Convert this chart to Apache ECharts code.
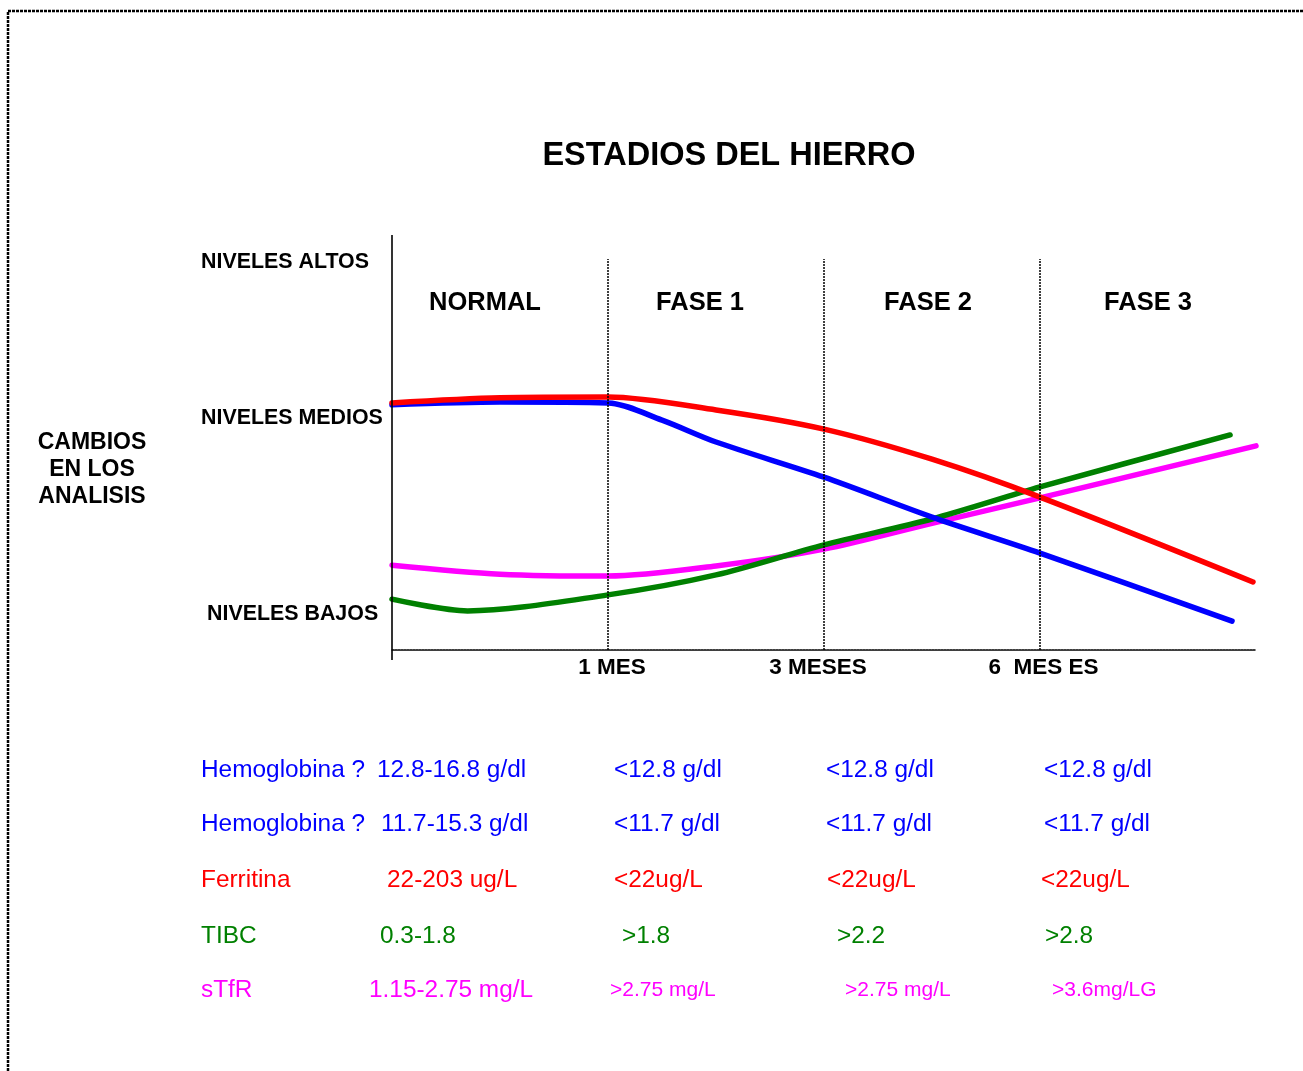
<!DOCTYPE html>
<html>
<head>
<meta charset="utf-8">
<script src="https://cdn.jsdelivr.net/npm/echarts@6/dist/echarts.min.js"></script>
<style>
html,body{margin:0;padding:0;background:#fff;}
#chart{width:1303px;height:1071px;}
</style>
</head>
<body>
<div id="chart"></div>
<script>
// ---- data ----
const titleText = 'ESTADIOS DEL HIERRO';
const phaseLabels = ['NORMAL', 'FASE 1', 'FASE 2', 'FASE 3'];
const levelLabels = ['NIVELES ALTOS', 'NIVELES MEDIOS', 'NIVELES BAJOS'];
const yAxisTitle = 'CAMBIOS\nEN LOS\nANALISIS';
const tickLabels = ['', '1 MES', '3 MESES', '6  MES ES', ''];

// curves: [time position (phase units), level]
const ferritina = [[0,63.2],[0.5,64.5],[1,64.7],[1.5,61.4],[2,56.5],[2.5,48.8],[3,39.1],[3.986,17.4]];
const hemoglobina = [[0,62.7],[0.5,63.4],[1,63.2],[1.25,58.8],[1.5,53.2],[2,44.2],[2.5,34.0],[3,24.8],[3.889,7.4]];
const tibc = [[0,13.0],[0.35,10.0],[1,14.1],[1.5,19.2],[2,26.9],[2.5,33.5],[3,41.7],[3.88,55.0]];
const stfr = [[0,21.7],[0.5,19.4],[1,18.9],[1.5,21.5],[2,25.8],[2.5,32.4],[3,38.9],[4,52.2]];

// table below
const rowNames   = ['Hemoglobina ?', 'Hemoglobina ?', 'Ferritina', 'TIBC', 'sTfR'];
const normalVals = ['12.8-16.8 g/dl', '11.7-15.3 g/dl', '22-203 ug/L', '0.3-1.8', '1.15-2.75 mg/L'];
const fase1Vals  = ['<12.8 g/dl', '<11.7 g/dl', '<22ug/L', '>1.8', '>2.75 mg/L'];
const fase2Vals  = ['<12.8 g/dl', '<11.7 g/dl', '<22ug/L', '>2.2', '>2.75 mg/L'];
const fase3Vals  = ['<12.8 g/dl', '<11.7 g/dl', '<22ug/L', '>2.8', '>3.6mg/LG'];

// ---- styles / layout ----
const rowColors = ['#0000FF', '#0000FF', '#FF0000', '#008000', '#FF00FF'];
const rowY = [770, 824, 880, 936, 990];
const colX = [
  [201, 201, 201, 201, 201],
  [377, 381, 387, 380, 369],
  [614, 614, 614, 622, 610],
  [826, 826, 827, 837, 845],
  [1044, 1044, 1041, 1045, 1052]
];
const FONT = '"Liberation Sans", Arial, Helvetica, sans-serif';

const chart = echarts.init(document.getElementById('chart'), null, {renderer: 'canvas'});

const graphics = [];
// dotted frame
graphics.push({type:'rect', shape:{x:8, y:11, width:1320, height:1090}, style:{fill:null, stroke:'#000', lineWidth:2.5, lineDash:[3,1]}, silent:true});
// left axis line
graphics.push({type:'line', shape:{x1:392, y1:235, x2:392, y2:660}, style:{stroke:'#000', lineWidth:1.6}, silent:true, z:10});
// title
graphics.push({type:'text', x:729, y:156, style:{text:titleText, font:'bold 32.5px ' + FONT, fill:'#000', align:'center', verticalAlign:'middle'}});
// phase labels
const phaseCenters = [485, 700, 928, 1148];
phaseLabels.forEach((t, i) => graphics.push({type:'text', x:phaseCenters[i], y:303, style:{text:t, font:'bold 25.5px ' + FONT, fill:'#000', align:'center', verticalAlign:'middle'}}));
// level labels
const levelPos = [[201,262],[201,418],[207,614]];
levelLabels.forEach((t, i) => graphics.push({type:'text', x:levelPos[i][0], y:levelPos[i][1], style:{text:t, font:'bold 21.4px ' + FONT, fill:'#000', align:'left', verticalAlign:'middle'}}));
// y axis title
graphics.push({type:'text', x:92, y:470, style:{text:yAxisTitle, font:'bold 23px ' + FONT, lineHeight:27, fill:'#000', align:'center', verticalAlign:'middle'}});
// table
const cols = [rowNames, normalVals, fase1Vals, fase2Vals, fase3Vals];
cols.forEach((col, c) => {
  col.forEach((t, r) => {
    const small = (r === 4 && c >= 2);
    graphics.push({type:'text', x:colX[c][r], y:rowY[r], style:{text:t, font:(small ? '21px ' : '24.4px ') + FONT, fill:rowColors[r], align:'left', verticalAlign:'middle'}});
  });
});

function lineSeries(name, data, color, extra) {
  return Object.assign({
    name, type:'line', data, smooth:0.3, showSymbol:false, symbol:'none',
    lineStyle:{color, width:5.5, cap:'round', join:'round'}, itemStyle:{color},
    animation:false, silent:true
  }, extra || {});
}

const labelRich = {
  a:{padding:[0,0,0,8]},
  b:{padding:[0,12,0,0]},
  c:{padding:[0,0,0,7]}
};
const richKeys = ['', 'a', 'b', 'c', ''];

chart.setOption({
  animation:false,
  backgroundColor:'#fff',
  grid:{left:392, right:47, top:259, bottom:421, containLabel:false},
  xAxis:{
    type:'value', min:0, max:4, interval:1,
    axisLine:{show:true, lineStyle:{color:'#000', width:1.5, type:[2,1]}},
    axisTick:{show:false}, splitLine:{show:false},
    axisLabel:{show:true, margin:6, color:'#000', fontFamily:FONT, fontWeight:'bold', fontSize:22.5,
      showMinLabel:true, showMaxLabel:true, rich:labelRich,
      formatter:(v) => {
        const i = Math.round(v);
        const t = tickLabels[i] || '';
        return t ? '{' + richKeys[i] + '|' + t + '}' : '';
      }}
  },
  yAxis:{
    type:'value', min:0, max:100,
    axisLine:{show:false}, axisTick:{show:false}, splitLine:{show:false}, axisLabel:{show:false}
  },
  series:[
    lineSeries('sTfR', stfr, '#FF00FF', {
      markLine:{silent:true, symbol:'none', label:{show:false},
        lineStyle:{color:'#000', width:1.5, type:[2,1]},
        data:[{xAxis:1},{xAxis:2},{xAxis:3}], animation:false}
    }),
    lineSeries('TIBC', tibc, '#008000'),
    lineSeries('Hemoglobina', hemoglobina, '#0000FF'),
    lineSeries('Ferritina', ferritina, '#FF0000')
  ],
  graphic:graphics
});
</script>
</body>
</html>
